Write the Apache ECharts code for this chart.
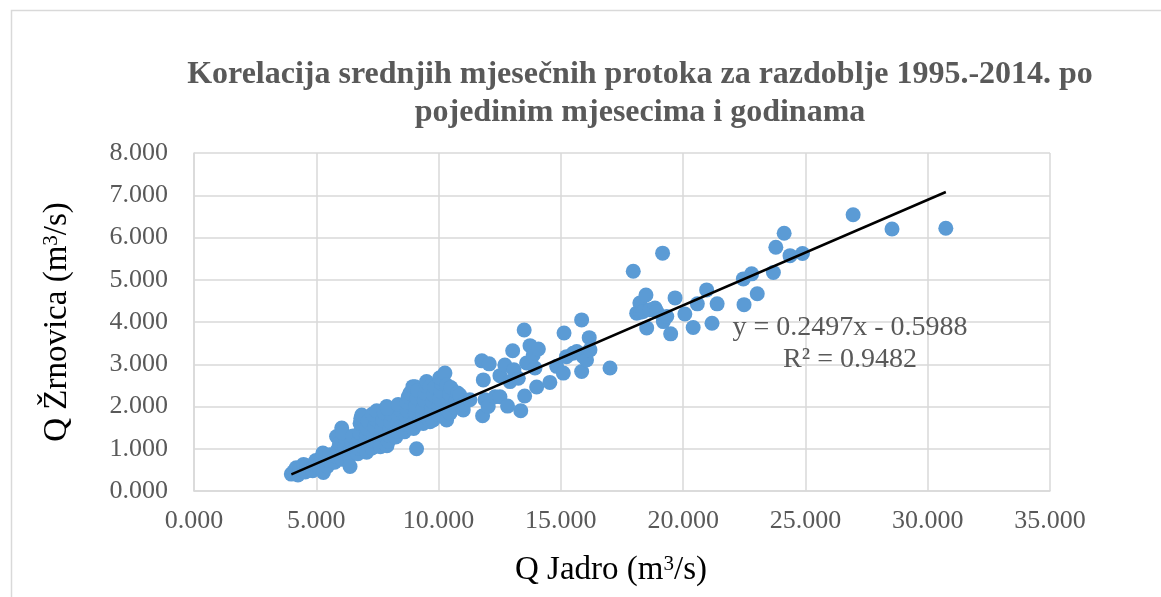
<!DOCTYPE html>
<html>
<head>
<meta charset="utf-8">
<title>Korelacija srednjih mjesečnih protoka</title>
<script src="https://cdn.jsdelivr.net/npm/echarts@6/dist/echarts.min.js"></script>
<style>
  html, body { margin: 0; padding: 0; background: #ffffff; }
  #chart { width: 1161px; height: 597px; }
</style>
</head>
<body>
<div id="chart"></div>
<script>
// Monthly mean discharge pairs [Q Jadro, Q Žrnovica] in m3/s, 1995–2014
const lowFlowPoints = [
  [3.98,0.40],[4.08,0.46],[4.18,0.55],[4.25,0.38],[4.32,0.52],[4.48,0.63],[4.55,0.45],
  [4.62,0.60],[4.70,0.50],
  [4.85,0.48],[4.92,0.62],[4.98,0.72],[5.12,0.55],[5.18,0.68],[5.22,0.80],[5.27,0.90],
  [5.29,0.44],[5.45,0.58],[5.50,0.72],[5.55,0.86],[5.75,0.68],[5.80,0.82],[5.83,1.29],
  [5.88,0.98],[5.95,1.12],[6.04,1.49],[6.05,0.75],[6.12,0.90],[6.15,1.05],[6.20,1.22],
  [6.08,1.38],[6.35,0.82],[6.38,0.58],[6.42,0.98],[6.45,1.15],[6.50,1.30],[6.65,1.05],
  [6.70,0.88],[6.72,1.02],[6.75,1.20],[6.78,1.38],[6.79,1.60],[6.82,1.72],[6.86,1.80],
  [6.98,1.00],[7.02,1.15],[7.05,1.30],[7.06,0.92],[7.08,1.48],[7.12,1.65],[7.28,1.02],
  [7.32,1.18],[7.35,1.35],[7.38,1.52],[7.42,1.70],[7.30,1.82],[7.47,1.90],[7.60,1.21],
  [7.62,1.05],[7.66,1.35],[7.70,1.50],[7.72,1.68],[7.78,1.85],[7.88,2.00],[7.89,1.07],
  [7.95,1.18],[7.98,1.32],[8.02,1.48],[8.05,1.62],[8.10,1.80],[7.92,1.95],[8.25,1.28],
  [8.30,1.42],[8.32,1.60],[8.38,1.75],[8.42,1.52],[8.45,1.92],[8.35,2.05],[8.60,1.40],
  [8.65,1.58],[8.68,1.75],[8.72,1.90],[8.70,2.10],[8.76,2.23],[8.83,2.32],[8.83,1.54],
  [8.95,2.47],[8.98,1.48],[9.02,1.65],[9.04,2.47],[9.05,1.85],[9.08,2.02],[9.10,1.00],
  [9.12,2.20],[9.15,2.38],[9.24,1.72],[9.30,1.62],[9.35,1.82],[9.37,1.60],[9.38,1.98],
  [9.42,2.15],[9.45,2.32],[9.50,2.48],[9.50,1.75],[9.51,2.59],[9.65,2.47],[9.65,1.64],
  [9.68,1.78],[9.72,1.95],[9.75,2.12],[9.78,1.68],[9.80,2.28],[9.85,2.45],[9.98,1.82],
  [10.02,2.00],[10.05,2.18],[10.10,2.35],[10.12,2.55],[10.05,2.68],[10.26,2.79],
  [10.33,2.51],[10.33,1.68],[10.35,1.95],[10.40,2.12],[10.45,2.30],[10.47,1.84],
  [10.50,2.45],[10.68,1.98],[10.72,2.15],[10.78,2.32],[10.87,2.27],[11.01,1.92],
  [11.01,2.04],[11.28,2.16]
];

const midFlowPoints = [
  [11.77,3.08],[11.80,1.78],[11.83,2.63],[11.90,2.16],[12.03,2.00],[12.07,3.01],
  [12.31,2.23],[12.51,2.23],[12.51,2.73],[12.71,2.98],[12.82,2.01],[12.92,2.59],
  [13.03,3.32],[13.08,2.87],[13.26,2.67],[13.36,1.90],[13.50,3.81],[13.52,2.25],
  [13.60,3.03],[13.74,3.44],[13.87,3.22],[13.94,2.91],[14.01,2.46],[14.08,3.36],
  [14.55,2.57],[14.83,2.95],[15.10,2.79],[15.13,3.74],[15.23,3.18],[15.50,3.26],
  [15.65,3.30],[15.85,4.05],[15.85,2.83],[15.92,3.18],[16.05,3.10],[16.16,3.63],
  [16.19,3.34],[17.01,2.91]
];

const highFlowPoints = [
  [17.96,5.20],[18.10,4.21],[18.23,4.45],[18.26,4.23],[18.37,4.25],[18.48,4.64],
  [18.51,3.86],[18.64,4.29],[18.85,4.33],[18.92,4.25],[19.16,5.63],[19.19,4.01],
  [19.33,4.13],[19.49,3.72],[19.67,4.57],[20.07,4.19],[20.41,3.87],[20.58,4.43],
  [20.96,4.76],[21.18,3.97],[21.39,4.43],[22.46,5.02],[22.49,4.41],[22.80,5.14],
  [23.03,4.67],[23.69,5.17],[23.79,5.77],[24.13,6.10],[24.37,5.57],[24.88,5.62],
  [26.95,6.54],[28.54,6.20],[30.74,6.22]
];

// Linear trend: y = 0.2497x - 0.5988, R² = 0.9482
const trendSlope = 0.2497;
const trendIntercept = -0.5988;
const trendR2 = 0.9482;

const xTicks = [0, 5, 10, 15, 20, 25, 30, 35];
const yTicks = [0, 1, 2, 3, 4, 5, 6, 7, 8];

const titleText = 'Korelacija srednjih mjesečnih protoka za razdoblje 1995.-2014. po\npojedinim mjesecima i godinama';

const allPoints = lowFlowPoints.concat(midFlowPoints, highFlowPoints);
const xs = allPoints.map(p => p[0]);
const xMin = Math.min.apply(null, xs);
const xMax = Math.max.apply(null, xs);
const trendLine = [
  [xMin, trendSlope * xMin + trendIntercept],
  [xMax, trendSlope * xMax + trendIntercept]
];

const fmt = v => v.toFixed(3);
const serif = '"Liberation Serif", "Times New Roman", serif';
const grey = '#595959';
const gridGrey = '#d9d9d9';

const chart = echarts.init(document.getElementById('chart'), null, { renderer: 'canvas' });

const nameRich = {
  base: { fontFamily: serif, fontSize: 33, color: '#000000' },
  sup: { fontFamily: serif, fontSize: 21, color: '#000000', verticalAlign: 'top' }
};

chart.setOption({
  backgroundColor: '#ffffff',
  animation: false,
  title: {
    text: titleText,
    left: 635,
    top: 51,
    textAlign: 'center',
    textStyle: {
      fontFamily: serif,
      fontWeight: 'bold',
      fontSize: 32,
      lineHeight: 38,
      color: grey
    }
  },
  grid: { left: 194, right: 111, top: 153, bottom: 106, containLabel: false },
  xAxis: {
    type: 'value',
    min: xTicks[0],
    max: xTicks[xTicks.length - 1],
    interval: xTicks[1] - xTicks[0],
    name: '{base|Q Jadro (m}{sup|3}{base|/s)}',
    nameLocation: 'middle',
    nameGap: 63,
    nameTextStyle: { rich: nameRich, padding: [0, 22, 0, 0] },
    axisLine: { show: true, lineStyle: { color: gridGrey, width: 1.5 } },
    axisTick: { show: false },
    axisLabel: { formatter: fmt, fontFamily: serif, fontSize: 26, color: grey, margin: 17 },
    splitLine: { show: true, showMinLine: true, showMaxLine: true, lineStyle: { color: gridGrey, width: 1.5 } }
  },
  yAxis: {
    type: 'value',
    min: yTicks[0],
    max: yTicks[yTicks.length - 1],
    interval: yTicks[1] - yTicks[0],
    name: '{base|Q Žrnovica (m}{sup|3}{base|/s)}',
    nameLocation: 'middle',
    nameGap: 120,
    nameTextStyle: { rich: nameRich },
    axisLine: { show: true, lineStyle: { color: gridGrey, width: 1.5 } },
    axisTick: { show: false },
    axisLabel: { formatter: fmt, fontFamily: serif, fontSize: 26, color: grey, margin: 26 },
    splitLine: { show: true, showMinLine: true, showMaxLine: true, lineStyle: { color: gridGrey, width: 1.5 } }
  },
  series: [
    {
      name: 'Q',
      type: 'scatter',
      data: allPoints,
      symbol: 'circle',
      symbolSize: 15,
      itemStyle: { color: '#5b9bd5', opacity: 1 },
      z: 2
    },
    {
      name: 'Linear',
      type: 'line',
      data: trendLine,
      symbol: 'none',
      lineStyle: { color: '#000000', width: 2.5 },
      silent: true,
      z: 3
    }
  ],
  graphic: [
    {
      type: 'rect',
      shape: { x: 11.5, y: 10.5, width: 1200, height: 700 },
      style: { fill: 'none', stroke: gridGrey, lineWidth: 1.5 },
      silent: true,
      z: -10
    },
    {
      type: 'text',
      x: 850,
      y: 312,
      style: {
        text: 'y = ' + trendSlope.toFixed(4) + 'x - ' + Math.abs(trendIntercept).toFixed(4) + '\nR² = ' + trendR2.toFixed(4),
        fontFamily: serif,
        fontSize: 28,
        lineHeight: 32,
        fill: grey,
        align: 'center',
        verticalAlign: 'top'
      },
      z: 10
    }
  ]
});
</script>
</body>
</html>
